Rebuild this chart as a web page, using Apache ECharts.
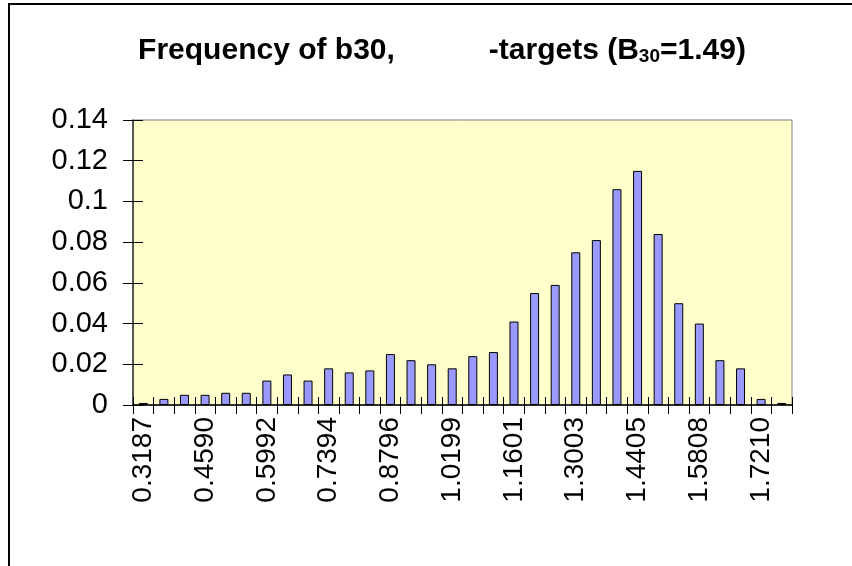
<!DOCTYPE html>
<html>
<head>
<meta charset="utf-8">
<script src="https://cdn.jsdelivr.net/npm/echarts@6/dist/echarts.min.js"></script>
<style>html,body{margin:0;padding:0;background:#fff}#c{width:852px;height:566px}</style>
</head>
<body>
<div id="c"></div>
<script>
const categories = ['0.3187','0.3654','0.4122','0.4590','0.5057','0.5524','0.5992','0.6459','0.6927','0.7394','0.7862','0.8329','0.8796','0.9264','0.9731','1.0199','1.0666','1.1134','1.1601','1.2068','1.2536','1.3003','1.3471','1.3938','1.4405','1.4873','1.5340','1.5808','1.6275','1.6742','1.7210','1.7677'];
const frequencies = [0.001,0.003,0.005,0.005,0.006,0.006,0.012,0.015,0.012,0.018,0.016,0.017,0.025,0.022,0.020,0.018,0.024,0.026,0.041,0.055,0.059,0.075,0.081,0.106,0.115,0.084,0.050,0.040,0.022,0.018,0.003,0.001];
const yTicks = {min: 0, max: 0.14, interval: 0.02};

const FONT = "'Liberation Sans', Arial, Helvetica, sans-serif";
const chart = echarts.init(document.getElementById('c'), null, {renderer: 'canvas'});
chart.setOption({
  animation: false,
  backgroundColor: '#ffffff',
  textStyle: {fontFamily: FONT},
  title: {
    text: '{a|Frequency of b30,}{gap|}{a|-targets (B}{sub|30}{a|=1.49)}',
    left: 437, top: 28, textAlign: 'center',
    textStyle: {
      rich: {
        a: {fontFamily: FONT, fontSize: 30, fontWeight: 'bold', color: '#000', lineHeight: 36, verticalAlign: 'middle'},
        gap: {width: 94, lineHeight: 36},
        sub: {fontFamily: FONT, fontSize: 19, fontWeight: 'bold', color: '#000', lineHeight: 36, padding: [12, 0, 0, 0], verticalAlign: 'middle'}
      }
    }
  },
  graphic: [{
    type: 'rect', z: 100,
    shape: {x: 9, y: 4, width: 900, height: 700},
    style: {fill: 'none', stroke: '#000', lineWidth: 2}
  }],
  grid: {
    left: 133, right: 60, top: 120, bottom: 161,
    show: true, backgroundColor: '#FFFFCC', borderColor: '#808080', borderWidth: 1
  },
  xAxis: [{
    type: 'category', data: categories,
    axisLine: {lineStyle: {color: '#000', width: 1.5}},
    axisTick: {show: true, alignWithLabel: false, interval: 0, length: 9, lineStyle: {color: '#000', width: 1}},
    axisLabel: {interval: 2, rotate: 90, margin: 12, fontSize: 28, color: '#000', fontFamily: FONT}
  }, {
    type: 'category', data: categories, position: 'bottom',
    axisLine: {show: false},
    axisTick: {show: true, inside: true, interval: 0, length: 8, lineStyle: {color: '#000', width: 1}},
    axisLabel: {show: false}
  }],
  yAxis: [{
    type: 'value', min: yTicks.min, max: yTicks.max, interval: yTicks.interval,
    splitLine: {show: false},
    axisLine: {show: true, lineStyle: {color: '#333', width: 1.5}},
    axisTick: {show: true, length: 10, lineStyle: {color: '#000', width: 1}},
    axisLabel: {margin: 25, fontSize: 29, color: '#000', fontFamily: FONT}
  }, {
    type: 'value', min: yTicks.min, max: yTicks.max, interval: yTicks.interval, position: 'left',
    splitLine: {show: false},
    axisLine: {show: false},
    axisTick: {show: true, inside: true, length: 10, lineStyle: {color: '#000', width: 1}},
    axisLabel: {show: false}
  }],
  series: [{
    type: 'bar', data: frequencies, barWidth: 9,
    itemStyle: {color: '#9999FF', borderColor: '#000', borderWidth: 1}
  }]
});
</script>
</body>
</html>
